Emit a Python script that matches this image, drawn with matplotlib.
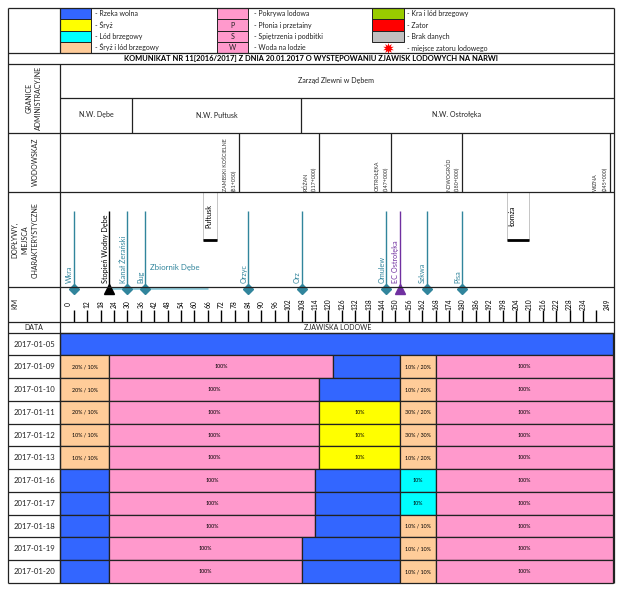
import matplotlib
matplotlib.use("Agg")
import matplotlib.pyplot as plt
from matplotlib.patches import Rectangle

W, H = 618, 589
plt.rcParams['font.family'] = ['Lato', 'DejaVu Sans']

# kolory zjawisk
colors = {'W': '#3366FF', 'S': '#FFFF00', 'L': '#00FFFF', 'O': '#FFCC99', 'P': '#FF99CC'}
line_col = '#222222'
teal = '#31859C'

dates = ['2017-01-05', '2017-01-09', '2017-01-10', '2017-01-11', '2017-01-12', '2017-01-13',
         '2017-01-16', '2017-01-17', '2017-01-18', '2017-01-19', '2017-01-20']
km_end = 247.6
# granice odcinkow w km
row_edges = [[0, km_end],
             [0, 22, 122, 152, 168, km_end],
             [0, 22, 116, 152, 168, km_end],
             [0, 22, 116, 152, 168, km_end],
             [0, 22, 116, 152, 168, km_end],
             [0, 22, 116, 152, 168, km_end],
             [0, 22, 114, 152, 168, km_end],
             [0, 22, 114, 152, 168, km_end],
             [0, 22, 114, 152, 168, km_end],
             [0, 22, 108, 152, 168, km_end],
             [0, 22, 108, 152, 168, km_end]]
row_kinds = ['W', 'OPWOP', 'OPWOP', 'OPSOP', 'OPSOP', 'OPSOP',
             'WPWLP', 'WPWLP', 'WPWOP', 'WPWOP', 'WPWOP']
row_labels = [[''],
              ['20% / 10%', '100%', '', '10% / 20%', '100%'],
              ['20% / 10%', '100%', '', '10% / 20%', '100%'],
              ['20% / 10%', '100%', '10%', '30% / 20%', '100%'],
              ['10% / 10%', '100%', '10%', '30% / 30%', '100%'],
              ['10% / 10%', '100%', '10%', '10% / 20%', '100%'],
              ['', '100%', '', '10%', '100%'],
              ['', '100%', '', '10%', '100%'],
              ['', '100%', '', '10% / 10%', '100%'],
              ['', '100%', '', '10% / 10%', '100%'],
              ['', '100%', '', '10% / 10%', '100%']]

tick_km = list(range(6, 246, 6))
tick_labels = ['0'] + [str(k) for k in range(12, 240, 6)] + ['']

gauge_km = [80, 116, 148, 180, 246]
gauge_names = ['ZAMBSKI KOŚCIELNE', 'RÓŻAN', 'OSTROŁĘKA', 'NOWOGRÓD', 'WIZNA']
gauge_marks = ['(81+050)', '(117+000)', '(147+000)', '(180+000)', '(245+000)']

river_km = [6, 22, 30, 38, 84, 108, 146, 152, 164, 180]
river_names = ['Wkra', 'Stopień Wodny Dębe', 'Kanał Żerański', 'Bug', 'Orzyc', 'Orz',
               'Omulew', 'EC Ostrołęka', 'Szkwa', 'Pisa']
river_kinds = ['D', '^', 'D', 'D', 'D', 'D', 'D', '^', 'D', 'D']
river_cols = [teal, 'black', teal, teal, teal, teal, teal, '#7030A0', teal, teal]

legend_1 = [('W', '- Rzeka wolna'), ('S', '- Śryż'), ('L', '- Lód brzegowy'), ('O', '- Śryż i lód brzegowy')]
legend_2 = [('', '- Pokrywa lodowa'), ('P', '- Płonia i przetainy'), ('S', '- Spiętrzenia i podbitki'), ('W', '- Woda na lodzie')]
legend_3 = [('#99CC00', '- Kra i lód brzegowy'), ('#FF0000', '- Zator'), ('#C0C0C0', '- Brak danych')]

fig = plt.figure(figsize=(W / 100, H / 100), dpi=100, facecolor='white')


def px_axes(l, t, r, b):
    return fig.add_axes([l / W, 1 - b / H, (r - l) / W, (b - t) / H])


# tabela zjawisk
ax_t = px_axes(60.3, 332.7, 613.3, 583)
ax_t.set_xlim(0, km_end)
ax_t.set_ylim(len(dates), 0)
ax_t.axis('off')
for i in range(len(dates)):
    edges = row_edges[i]
    for j, kind in enumerate(row_kinds[i]):
        ax_t.barh(i + 0.5, edges[j + 1] - edges[j], left=edges[j], height=1, color=colors[kind],
                  edgecolor=line_col, linewidth=0.9, clip_on=False)
        if row_labels[i][j]:
            ax_t.text((edges[j] + edges[j + 1]) / 2, i + 0.5, row_labels[i][j], fontsize=3.9,
                      ha='center', va='center', color='black')

# os km, dopływy
ax_k = px_axes(60.3, 192.3, 613.3, 321.7)
ax_k.set_xlim(0, km_end)
ax_k.set_ylim(321.7, 192.3)
ax_k.patch.set_alpha(0)
for s in ax_k.spines.values():
    s.set_visible(False)
ax_k.set_yticks([])
ax_k.set_xticks(tick_km)
ax_k.set_xticklabels([])
ax_k.tick_params(axis='x', direction='in', length=8.4, width=1.0, color='black')
for k, lab in zip(tick_km, tick_labels):
    ax_k.text(3.6 if lab == '0' else k, 304, lab, rotation=90, fontsize=4.8, ha='center', va='center')
ax_k.text(245, 304, '249', rotation=90, fontsize=4.8, ha='center', va='center')

ax_k.plot([22, 66], [288, 288], color='#92CDDC', lw=2, solid_capstyle='butt')
for k, name, m, c in zip(river_km, river_names, river_kinds, river_cols):
    ax_k.plot([k, k], [211, 289], color=c, lw=1.0, solid_capstyle='butt')
    ax_k.plot(k, 289, marker=m, color=c, ms=4.8 if m == 'D' else 6.5, clip_on=False, zorder=5)
    ax_k.text(k - 1.8, 283, name, rotation=90, fontsize=5.2, ha='center', va='bottom', color=c)
ax_k.text(40, 268, 'Zbiornik Dębe', fontsize=5.7, color=teal, ha='left', va='center')

for k0, k1, name, xt in [(63.8, 70, 'Pułtusk', 66.5), (199.8, 209.8, 'Łomża', 202.3)]:
    ax_k.add_patch(Rectangle((k0, 192.3), k1 - k0, 47.7, fc='white', ec='#BBBBBB', lw=0.6, zorder=3))
    ax_k.plot([k0, k1], [240, 240], color='black', lw=2, solid_capstyle='butt', zorder=4)
    ax_k.text(xt, 216, name, rotation=90, fontsize=5.2, ha='center', va='center', zorder=4)

# wodowskazy
ax_g = px_axes(60.3, 132.7, 613.3, 192.3)
ax_g.set_xlim(0, km_end)
ax_g.set_ylim(192.3, 132.7)
ax_g.axis('off')
for k, name, mark in zip(gauge_km, gauge_names, gauge_marks):
    ax_g.plot([k, k], [132.7, 192.3], color=line_col, lw=0.9)
    ax_g.text(k - 6.2, 191, name, rotation=90, fontsize=3.8, ha='center', va='bottom', color='#333333')
    ax_g.text(k - 2.1, 191, mark, rotation=90, fontsize=3.8, ha='center', va='bottom', color='#333333')

# ramka i opisy, wspolrzedne w pikselach
ax_f = fig.add_axes([0, 0, 1, 1])
ax_f.set_xlim(0, W)
ax_f.set_ylim(H, 0)
ax_f.axis('off')
ax_f.patch.set_alpha(0)


def hline(y, x0=7.5, x1=614):
    ax_f.plot([x0, x1], [y, y], color=line_col, lw=0.9, solid_capstyle='butt')


def vline(x, y0, y1):
    ax_f.plot([x, x], [y0, y1], color=line_col, lw=0.9, solid_capstyle='butt')


leg_y = [7.5, 19.3, 31, 41.7, 52.7]
for i, (k, txt) in enumerate(legend_1):
    ax_f.add_patch(Rectangle((60.3, leg_y[i]), 30.7, leg_y[i + 1] - leg_y[i], fc=colors[k], ec=line_col, lw=0.7))
    ax_f.text(95, (leg_y[i] + leg_y[i + 1]) / 2, txt, fontsize=5, va='center', color='#222222')
for i, (k, txt) in enumerate(legend_2):
    ax_f.add_patch(Rectangle((216.7, leg_y[i]), 31, leg_y[i + 1] - leg_y[i], fc=colors['P'], ec=line_col, lw=0.7))
    ax_f.text(232.2, (leg_y[i] + leg_y[i + 1]) / 2, k, fontsize=5, va='center', ha='center', color='#222222')
    ax_f.text(254, (leg_y[i] + leg_y[i + 1]) / 2, txt, fontsize=5, va='center', color='#222222')
for i, (c, txt) in enumerate(legend_3):
    ax_f.add_patch(Rectangle((372.3, leg_y[i]), 31.4, leg_y[i + 1] - leg_y[i], fc=c, ec=line_col, lw=0.7))
    ax_f.text(407, (leg_y[i] + leg_y[i + 1]) / 2, txt, fontsize=5, va='center', color='#222222')
ax_f.plot(388, 48, marker=(10, 1, 0), color='#FF0000', ms=8, mew=0)
ax_f.text(407, 48, '- miejsce zatoru lodowego', fontsize=5, va='center', color='#222222')

for y in [7.5, 52.7, 64.3, 132.7, 192.3, 287.3, 321.7, 332.7]:
    hline(y)
hline(98.3, 60.3)
vline(7.5, 7.5, 583)
vline(613.7, 7.5, 583)
vline(60.3, 7.5, 52.7)
vline(60.3, 64.3, 583)
vline(131.7, 98.3, 132.7)
vline(301, 98.3, 132.7)

ax_f.text(311, 58.5, 'KOMUNIKAT NR 11[2016/2017] Z DNIA 20.01.2017 O WYSTĘPOWANIU ZJAWISK LODOWYCH NA NARWI',
          fontsize=5.4, fontweight='bold', ha='center', va='center')
ax_f.text(336, 81, 'Zarząd Zlewni w Dębem', fontsize=5.1, ha='center', va='center', color='#222222')
for x, txt in [(96, 'N.W. Dębe'), (217, 'N.W. Pułtusk'), (457, 'N.W. Ostrołęka')]:
    ax_f.text(x, 115, txt, fontsize=5.1, ha='center', va='center', color='#222222')
ax_f.text(34, 98, 'GRANICE\nADMINISTRACYJNE', rotation=90, fontsize=5, ha='center', va='center',
          multialignment='center', linespacing=1.45, color='#222222')
ax_f.text(35, 162, 'WODOWSKAZ', rotation=90, fontsize=5, ha='center', va='center', color='#222222')
ax_f.text(25, 240, 'DOPŁYWY,\nMIEJSCA\nCHARAKTERYSTYCZNE', rotation=90, fontsize=5, ha='center', va='center',
          multialignment='center', linespacing=1.45, color='#222222')
ax_f.text(15, 303, 'KM', rotation=90, fontsize=5, ha='center', va='center', color='#222222')
ax_f.text(34, 327.5, 'DATA', fontsize=5, ha='center', va='center', color='#222222')
ax_f.text(338, 327.5, 'ZJAWISKA LODOWE', fontsize=5, ha='center', va='center', color='#222222')

row_h = (583 - 332.7) / len(dates)
for i, d in enumerate(dates):
    y = 332.7 + row_h * i
    hline(y + row_h, 7.5, 60.3)
    ax_f.text(34.5, y + row_h / 2, d, fontsize=5.6, ha='center', va='center', color='#222222')

fig.savefig('out.png', dpi=100)
